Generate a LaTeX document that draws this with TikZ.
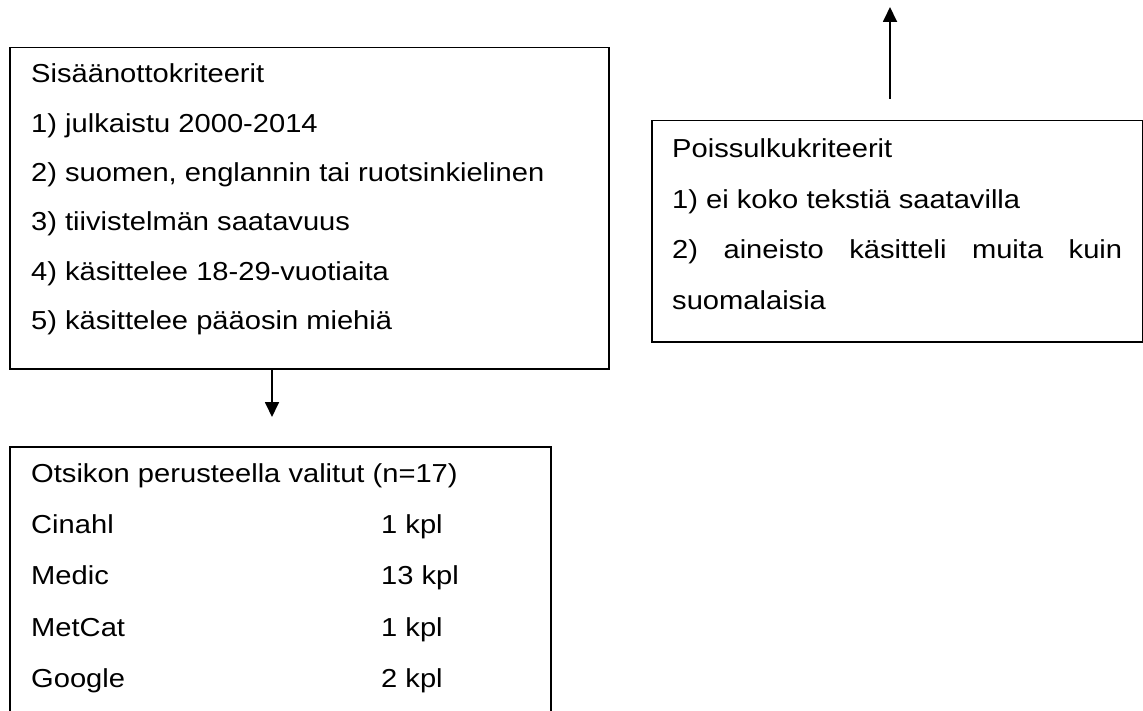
\documentclass[tikz,border=0pt]{standalone}
\usepackage{fontspec}
\setmainfont{Liberation Sans}[FakeStretch=1.12]
\usetikzlibrary{arrows.meta}
\begin{document}
\begin{tikzpicture}[x=1pt,y=-1pt,
  box/.style={draw, line width=1.5pt, rectangle, inner sep=0pt, anchor=north west},
  txt/.style={anchor=base west, inner sep=0pt, font=\fontsize{26}{30}\selectfont},
  arr/.style={line width=1.8pt, -{Triangle[width=14pt,length=15pt]}}]
\useasboundingbox (0,0) rectangle (1143,711);
\clip (0,0) rectangle (1143,711);
% boxes
\node[box, minimum width=599pt, minimum height=321pt] (box1) at (9,47) {};
\node[box, minimum width=491pt, minimum height=221pt] (box2) at (651,120) {};
\node[box, minimum width=541pt, minimum height=300pt] (box3) at (9,446) {};
% box 1 text
\node[txt] (t10) at (31,83) {Sisäänottokriteerit};
\node[txt] (t11) at (31,132.3) {1) julkaistu 2000-2014};
\node[txt] (t12) at (31,181.6) {2) suomen, englannin tai ruotsinkielinen};
\node[txt] (t13) at (31,231) {3) tiivistelmän saatavuus};
\node[txt] (t14) at (31,280) {4) käsittelee 18-29-vuotiaita};
\node[txt] (t15) at (31,329.5) {5) käsittelee pääosin miehiä};
% box 2 text
\node[txt] (t20) at (672,158) {Poissulkukriteerit};
\node[txt] (t21) at (672,208.5) {1) ei koko tekstiä saatavilla};
\node[txt] (t22) at (672,259) {\makebox[450pt][s]{2)\hfill aineisto\hfill käsitteli\hfill muita\hfill kuin}};
\node[txt] (t23) at (672,309) {suomalaisia};
% box 3 text
\node[txt] (t30) at (31,482) {Otsikon perusteella valitut (n=17)};
\node[txt] (t31) at (31,533) {Cinahl};
\node[txt] (t32) at (31,584.5) {Medic};
\node[txt] (t33) at (31,636) {MetCat};
\node[txt] (t34) at (31,687) {Google};
\node[txt] (n31) at (381,533) {1 kpl};
\node[txt] (n32) at (381,584.5) {13 kpl};
\node[txt] (n33) at (381,636) {1 kpl};
\node[txt] (n34) at (381,687) {2 kpl};
% arrows
\coordinate (a1end) at (272,417);
\draw[arr] (box1.south -| a1end) -- (a1end);
\coordinate (a2start) at (890,99);
\coordinate (a2end) at (890,7);
\draw[arr] (a2start) -- (a2end);
\end{tikzpicture}
\end{document}
